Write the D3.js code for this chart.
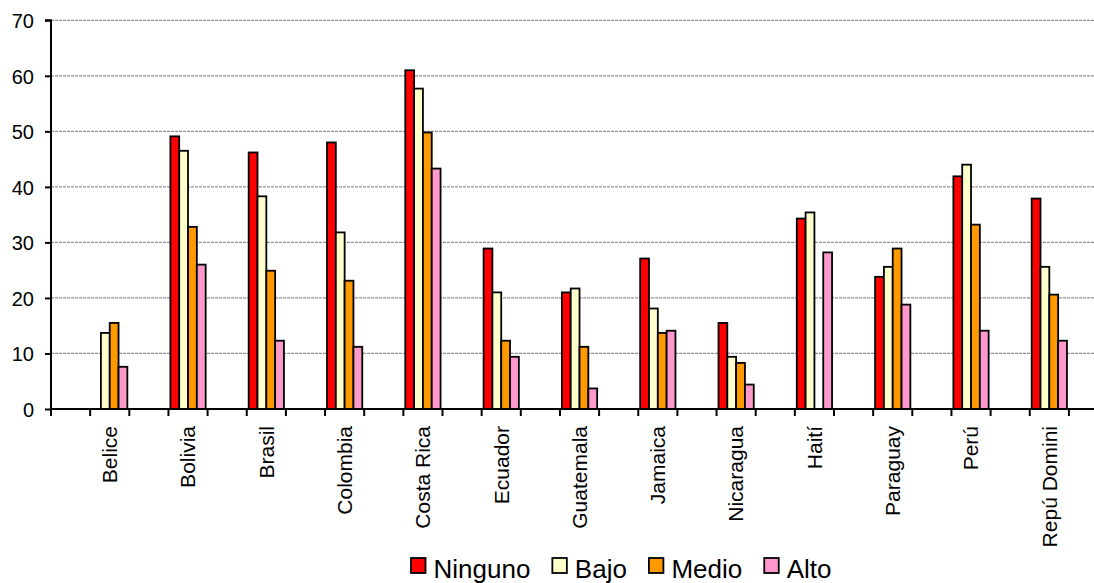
<!DOCTYPE html>
<html>
<head>
<meta charset="utf-8">
<script src="https://cdn.jsdelivr.net/npm/d3@7"></script>
<style>
  html, body { margin: 0; padding: 0; background: #fff; }
  svg { display: block; font-family: "Liberation Sans", Arial, sans-serif; }
</style>
</head>
<body>
<svg id="chart" width="1094" height="583"></svg>
<script>
const categories = ["Belice", "Bolivia", "Brasil", "Colombia", "Costa Rica", "Ecuador", "Guatemala", "Jamaica", "Nicaragua", "Haití", "Paraguay", "Perú", "Repú Domini"];
const seriesNames = ["Ninguno", "Bajo", "Medio", "Alto"];
const ninguno = [null, 49.1, 46.2, 48.0, 61.0, 28.9, 21.0, 27.1, 15.5, 34.3, 23.8, 41.9, 37.9];
const bajo    = [13.7, 46.5, 38.3, 31.8, 57.7, 21.0, 21.7, 18.1, 9.4, 35.4, 25.6, 44.0, 25.6];
const medio   = [15.5, 32.8, 24.9, 23.1, 49.8, 12.3, 11.2, 13.7, 8.3, null, 28.9, 33.2, 20.6];
const alto    = [7.6, 26.0, 12.3, 11.2, 43.3, 9.4, 3.7, 14.1, 4.4, 28.2, 18.8, 14.1, 12.3];
const yTicks  = [0, 10, 20, 30, 40, 50, 60, 70];
const colors  = ["#FF0000", "#FFFFCC", "#FF9900", "#FF99CC"];

(function () {
const seriesValues = [ninguno, bajo, medio, alto];
const svg = d3.select("#chart");

const mLeft = 51, mBottom = 409, mTop = 20.3, rightEdge = 1094;
const slotW = 39.15;
const slots = [];
categories.forEach((c, i) => { slots.push("_gap" + i); slots.push(c); });

const x0 = d3.scaleBand().domain(slots).range([mLeft, mLeft + slots.length * slotW]).padding(0);
const x1 = d3.scaleBand().domain(seriesNames).range([0, x0.bandwidth()]).paddingInner(0).paddingOuter(0.22);
const y = d3.scaleLinear().domain([0, 70]).range([mBottom, mTop]);

svg.append("g").selectAll("line").data(yTicks.filter(d => d > 0)).join("line")
  .attr("x1", mLeft).attr("x2", rightEdge)
  .attr("y1", d => y(d)).attr("y2", d => y(d))
  .attr("stroke", "#8f8f8f").attr("stroke-width", 1.2).attr("stroke-dasharray", "3,1");

const barData = [];
categories.forEach((c, i) => {
  seriesNames.forEach((s, j) => {
    const v = seriesValues[j][i];
    if (v != null) barData.push({ cat: c, series: s, value: v, color: colors[j] });
  });
});
svg.append("g").selectAll("rect").data(barData).join("rect")
  .attr("x", d => x0(d.cat) + x1(d.series))
  .attr("y", d => y(d.value))
  .attr("width", x1.bandwidth())
  .attr("height", d => y(0) - y(d.value))
  .attr("fill", d => d.color)
  .attr("stroke", "#000").attr("stroke-width", 1.8);

const yAxis = d3.axisLeft(y).tickValues(yTicks).tickSize(6).tickPadding(11);
const gy = svg.append("g").attr("transform", `translate(${mLeft},0)`).call(yAxis);
gy.select(".domain").attr("stroke", "#000").attr("stroke-width", 2).attr("d", `M-6,${mTop}H0V${mBottom}`);
gy.selectAll(".tick line").attr("stroke", "#000").attr("stroke-width", 2);
gy.selectAll(".tick text").attr("font-size", "20px").attr("fill", "#000")
  .attr("font-family", "'Liberation Sans', Arial, sans-serif").attr("dy", "0.36em");

svg.append("line").attr("x1", mLeft).attr("x2", rightEdge).attr("y1", mBottom).attr("y2", mBottom)
  .attr("stroke", "#000").attr("stroke-width", 2);
const boundaries = slots.map(s => x0(s)).concat([x0(slots[slots.length - 1]) + x0.bandwidth()]);
svg.append("g").selectAll("line").data(boundaries).join("line")
  .attr("x1", d => d).attr("x2", d => d).attr("y1", mBottom).attr("y2", mBottom + 7)
  .attr("stroke", "#000").attr("stroke-width", 2);

svg.append("g").selectAll("text").data(categories).join("text")
  .attr("transform", d => `translate(${x0(d) + x0.bandwidth() / 2},${mBottom + 17}) rotate(-90)`)
  .attr("text-anchor", "end").attr("dy", "0.35em")
  .attr("font-size", "21px").attr("fill", "#000")
  .text(d => d);

const legend = svg.append("g");
let lx = 411;
seriesNames.forEach((s, j) => {
  legend.append("rect").attr("x", lx).attr("y", 558).attr("width", 14.5).attr("height", 15)
    .attr("fill", colors[j]).attr("stroke", "#000").attr("stroke-width", 1.8);
  const t = legend.append("text").attr("x", lx + 22.5).attr("y", 578)
    .attr("font-size", "26px").attr("fill", "#000").text(s);
  lx += 22.5 + t.node().getComputedTextLength() + 22;
});
})();
</script>
</body>
</html>
